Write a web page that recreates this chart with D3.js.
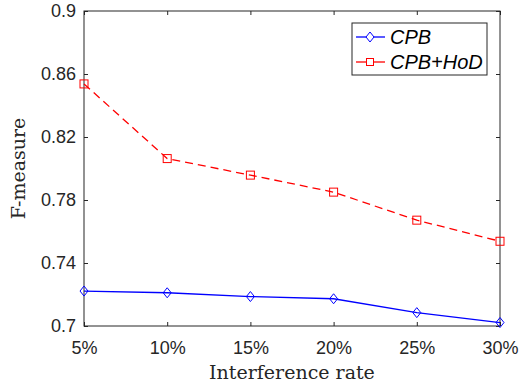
<!DOCTYPE html>
<html>
<head>
<meta charset="utf-8">
<style>
    body { margin: 0; background: #fff; }
    svg { display: block; }
    .tick text { font-family: Arial, 'Liberation Sans', sans-serif; font-size: 18px; fill: #262626; }
    .tick line { stroke: #262626; }
    .domain { display: none; }
    .lab { font-family: 'DejaVu Serif', 'Liberation Serif', serif; font-size: 19px; fill: #262626; }
    .leg { font-family: Arial, 'Liberation Sans', sans-serif; font-size: 20px; font-style: italic; fill: #000; }
</style>
</head>
<body>
<svg width="520" height="388"></svg>
<script src="https://d3js.org/d3.v7.min.js"></script>
<script>
    let categories = ["5%", "10%", "15%", "20%", "25%", "30%"];
    let cpb = [0.7222, 0.7211, 0.7187, 0.7173, 0.7085, 0.7022];
    let cpbHod = [0.8537, 0.8063, 0.7958, 0.7850, 0.7672, 0.7538];
    let yTicks = [0.7, 0.74, 0.78, 0.82, 0.86, 0.9];

    let margin = { top: 11, right: 20, bottom: 62, left: 84 };
    let width = 520, height = 388;

    let svg = d3.select("svg");

    let x = d3.scalePoint()
        .domain(categories)
        .range([margin.left, width - margin.right]);

    let y = d3.scaleLinear()
        .domain([0.7, 0.9])
        .range([height - margin.bottom, margin.top]);

    // box
    svg.append("rect")
        .attr("x", margin.left)
        .attr("y", margin.top)
        .attr("width", width - margin.right - margin.left)
        .attr("height", height - margin.bottom - margin.top)
        .style("fill", "none")
        .style("stroke", "#262626")
        .style("stroke-width", 1);

    // bottom / left axes with labels, ticks inward
    svg.append("g")
        .attr("class", "x axis")
        .attr("transform", `translate(0,${height - margin.bottom})`)
        .call(d3.axisBottom(x).tickSizeInner(-4).tickSizeOuter(0).tickPadding(15));

    svg.append("g")
        .attr("class", "y axis")
        .attr("transform", `translate(${margin.left},0)`)
        .call(d3.axisLeft(y).tickValues(yTicks).tickFormat(d3.format("~g")).tickSizeInner(-4).tickSizeOuter(0).tickPadding(8));

    // top / right ticks without labels
    svg.append("g")
        .attr("transform", `translate(0,${margin.top})`)
        .call(d3.axisTop(x).tickSizeInner(-4).tickSizeOuter(0).tickFormat(""));

    svg.append("g")
        .attr("transform", `translate(${width - margin.right},0)`)
        .call(d3.axisRight(y).tickValues(yTicks).tickSizeInner(-4).tickSizeOuter(0).tickFormat(""));

    let line = d3.line()
        .x((d, i) => x(categories[i]))
        .y(d => y(d));

    // CPB+HoD (red dashed, squares)
    svg.append("path")
        .attr("d", line(cpbHod))
        .style("fill", "none")
        .style("stroke", "#ff0000")
        .style("stroke-width", 1.3)
        .style("stroke-dasharray", "8,5");

    svg.selectAll(".sq")
        .data(cpbHod)
        .join("rect")
        .attr("x", (d, i) => x(categories[i]) - 4)
        .attr("y", d => y(d) - 4)
        .attr("width", 8)
        .attr("height", 8)
        .style("fill", "none")
        .style("stroke", "#ff0000")
        .style("stroke-width", 1);

    // CPB (blue solid, diamonds)
    svg.append("path")
        .attr("d", line(cpb))
        .style("fill", "none")
        .style("stroke", "#0000ff")
        .style("stroke-width", 1.3);

    let diamond = "M0,-5L4,0L0,5L-4,0Z";
    svg.selectAll(".dm")
        .data(cpb)
        .join("path")
        .attr("d", diamond)
        .attr("transform", (d, i) => `translate(${x(categories[i])},${y(d)})`)
        .style("fill", "none")
        .style("stroke", "#0000ff")
        .style("stroke-width", 1);

    // axis labels
    svg.append("text")
        .attr("class", "lab")
        .attr("x", (margin.left + width - margin.right) / 2)
        .attr("y", 379)
        .attr("text-anchor", "middle")
        .text("Interference rate");

    svg.append("text")
        .attr("class", "lab")
        .attr("transform", `translate(25,${(margin.top + height - margin.bottom) / 2}) rotate(-90)`)
        .attr("text-anchor", "middle")
        .text("F-measure");

    // legend
    let lg = svg.append("g").attr("transform", "translate(352,23)");
    lg.append("rect")
        .attr("width", 135)
        .attr("height", 52)
        .style("fill", "#fff")
        .style("stroke", "#262626")
        .style("stroke-width", 1);

    lg.append("line").attr("x1", 4).attr("x2", 33).attr("y1", 14).attr("y2", 14)
        .style("stroke", "#0000ff").style("stroke-width", 1.3);
    lg.append("path").attr("d", diamond).attr("transform", "translate(18,14)")
        .style("fill", "#fff").style("stroke", "#0000ff");
    lg.append("text").attr("class", "leg").attr("x", 38).attr("y", 21).text("CPB");

    lg.append("line").attr("x1", 4).attr("x2", 33).attr("y1", 39).attr("y2", 39)
        .style("stroke", "#ff0000").style("stroke-width", 1.3);
    lg.append("rect").attr("x", 14.5).attr("y", 35.5).attr("width", 7).attr("height", 7)
        .style("fill", "#fff").style("stroke", "#ff0000");
    lg.append("text").attr("class", "leg").attr("x", 38).attr("y", 46).text("CPB+HoD");
</script>
</body>
</html>
